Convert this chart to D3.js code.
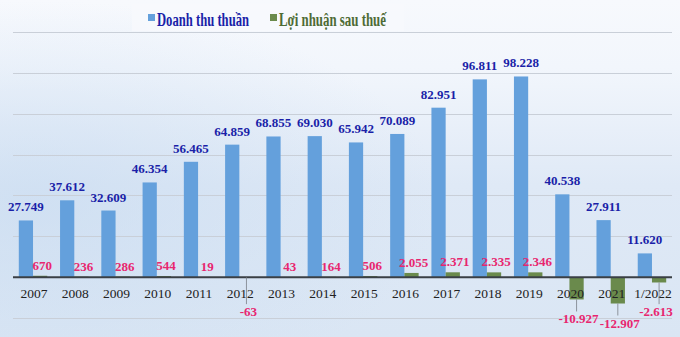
<!DOCTYPE html>
<html>
<head>
<meta charset="utf-8">
<script src="https://cdn.jsdelivr.net/npm/d3@7"></script>
<style>
  html, body { margin: 0; padding: 0; background: #eef3fa; }
  svg { display: block; }
</style>
</head>
<body>
<svg id="chart" width="680" height="337"></svg>
<script>
const categories = ["2007","2008","2009","2010","2011","2012","2013","2014","2015","2016","2017","2018","2019","2020","2021","1/2022"];
const revenue = [27749, 37612, 32609, 46354, 56465, 64859, 68855, 69030, 65942, 70089, 82951, 96811, 98228, 40538, 27911, 11620];
const profit = [670, 236, 286, 544, 19, -63, 43, 164, 506, 2055, 2371, 2335, 2346, -10927, -12907, -2613];
const seriesNames = ["Doanh thu thuần", "Lợi nhuận sau thuế"];
const gridTicks = [-20000, 0, 20000, 40000, 60000, 80000, 100000, 120000];

const W = 680, H = 337;
const svg = d3.select("#chart");
const serif = "'Liberation Serif', 'Times New Roman', serif";
const fmt = d3.formatLocale({decimal: ",", thousands: ".", grouping: [3], currency: ["", ""], minus: "-"}).format(",d");

// background
const defs = svg.append("defs");
const g1 = defs.append("linearGradient").attr("id", "bg").attr("x1", 0).attr("y1", 0).attr("x2", 0).attr("y2", 1);
g1.append("stop").attr("offset", "0%").attr("stop-color", "#f7f9fd");
g1.append("stop").attr("offset", "20%").attr("stop-color", "#f2f6fc");
g1.append("stop").attr("offset", "55%").attr("stop-color", "#dfe9f6");
g1.append("stop").attr("offset", "100%").attr("stop-color", "#dae6f4");
svg.append("rect").attr("width", W).attr("height", H).attr("fill", "url(#bg)");
const g2 = defs.append("radialGradient").attr("id", "bgl").attr("cx", 0.05).attr("cy", 0.6).attr("r", 0.6);
g2.append("stop").attr("offset", "0%").attr("stop-color", "#c6daf0").attr("stop-opacity", 0.6);
g2.append("stop").attr("offset", "100%").attr("stop-color", "#c6daf0").attr("stop-opacity", 0);
svg.append("rect").attr("width", W).attr("height", H).attr("fill", "url(#bgl)");

// legend box
svg.append("rect").attr("x", 132).attr("y", 4).attr("width", 272).attr("height", 27).attr("fill", "#f8f9fd").attr("opacity", 0.8);

const y = d3.scaleLinear().domain([-20000, 120000]).range([318, 32]);
const x = d3.scaleBand().domain(categories).range([6, 679]).paddingInner(0.31).paddingOuter(0.31);
const x1 = d3.scaleBand().domain(["rev", "profit"]).range([0, x.bandwidth()]);

// grid
svg.append("g").selectAll("line").data(gridTicks.filter(d => d !== 0)).join("line")
  .attr("x1", 13).attr("x2", 672)
  .attr("y1", d => Math.round(y(d)) + 0.5).attr("y2", d => Math.round(y(d)) + 0.5)
  .attr("stroke", "#c9cfd8").attr("stroke-width", 1);

// bars
const revColor = "#64a0dc", profColor = "#6a8a4c";
svg.append("g").selectAll("rect").data(revenue).join("rect")
  .attr("x", (d, i) => x(categories[i]) + x1("rev"))
  .attr("width", x1.bandwidth())
  .attr("y", d => y(d)).attr("height", d => y(0) - y(d))
  .attr("fill", revColor);
svg.append("g").selectAll("rect").data(profit).join("rect")
  .attr("x", (d, i) => x(categories[i]) + x1("profit"))
  .attr("width", x1.bandwidth())
  .attr("y", d => y(Math.max(0, d))).attr("height", d => Math.abs(y(0) - y(d)))
  .attr("fill", profColor);

// axis line
svg.append("line").attr("x1", 13).attr("x2", 672).attr("y1", y(0)).attr("y2", y(0))
  .attr("stroke", "#3a3f45").attr("stroke-width", 2);

// x labels
svg.append("g").selectAll("text").data(categories).join("text")
  .attr("x", d => x(d) + x.bandwidth() / 2 + 1)
  .attr("y", 298)
  .attr("text-anchor", "middle")
  .attr("font-family", serif).attr("font-size", 13.5).attr("fill", "#222")
  .text(d => d);

// revenue labels
svg.append("g").selectAll("text").data(revenue).join("text")
  .attr("x", (d, i) => x(categories[i]) + x1("rev") + x1.bandwidth() / 2)
  .attr("y", d => y(d) - 9)
  .attr("text-anchor", "middle")
  .attr("font-family", serif).attr("font-weight", "bold").attr("font-size", 13).attr("fill", "#1a1fa8")
  .text(d => fmt(d));

// profit labels
const pink = "#e8266f";
const negY = d => Math.max(y(d) + 24, y(0) + 39);
const negX = (d, i) => x(categories[i]) + x1("profit") + x1.bandwidth() / 2 + 2 - (i === categories.length - 1 ? 5 : 0);
svg.append("g").selectAll("line").data(profit.map((d, i) => [d, i]).filter(p => p[0] < 0)).join("line")
  .attr("x1", p => x(categories[p[1]]) + x1("profit") + x1.bandwidth() / 2)
  .attr("x2", p => x(categories[p[1]]) + x1("profit") + x1.bandwidth() / 2)
  .attr("y1", p => y(p[0])).attr("y2", p => negY(p[0]) - 12)
  .attr("stroke", "#7a7f86").attr("stroke-width", 0.8);
svg.append("g").selectAll("text").data(profit).join("text")
  .attr("x", (d, i) => d >= 0 ? x(categories[i]) + x1("profit") + x1.bandwidth() / 2 + 2 : negX(d, i))
  .attr("y", d => d >= 0 ? y(d) - 6 : negY(d))
  .attr("text-anchor", "middle")
  .attr("font-family", serif).attr("font-weight", "bold").attr("font-size", 13).attr("fill", pink)
  .text(d => fmt(d));

// legend
const leg = [
  {name: seriesNames[0], color: revColor, text: "#1a1fa8", sx: 148, tx: 157, len: 92},
  {name: seriesNames[1], color: profColor, text: "#4e6b35", sx: 270, tx: 279, len: 107}
];
leg.forEach(l => {
  svg.append("rect").attr("x", l.sx).attr("y", 14).attr("width", 7).attr("height", 7).attr("fill", l.color);
  svg.append("text").attr("x", l.tx).attr("y", 25.5)
    .attr("font-family", serif).attr("font-weight", "bold").attr("font-size", 18).attr("fill", l.text)
    .attr("textLength", l.len).attr("lengthAdjust", "spacingAndGlyphs")
    .text(l.name);
});
</script>
</body>
</html>
